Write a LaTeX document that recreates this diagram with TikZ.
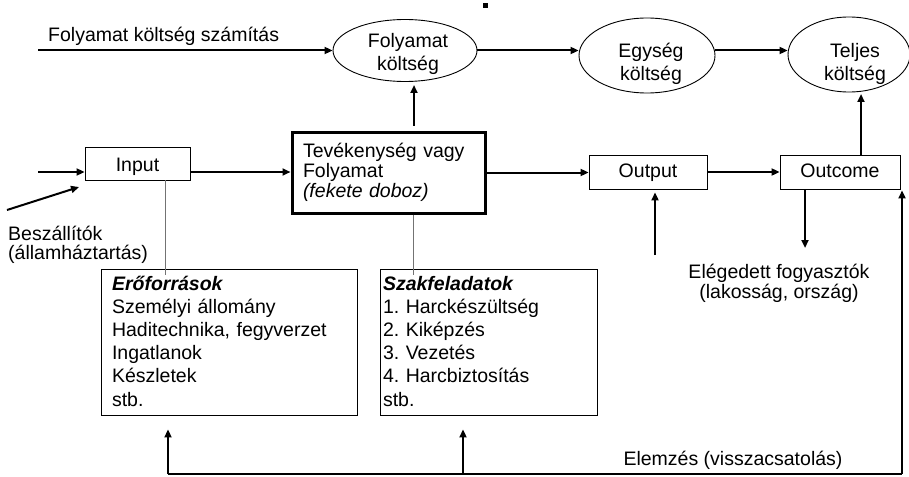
\documentclass[tikz,border=0pt]{standalone}
\usepackage{fontspec}
\setmainfont{Liberation Sans}
\usetikzlibrary{arrows.meta,shapes.geometric}
\newcommand\mytop[1]{\rule{0pt}{#1}}
\newcommand\mybot[1]{\rule[-#1]{0pt}{#1}}
\begin{document}
\frenchspacing
\begin{tikzpicture}[x=1pt,y=-1pt,
  txt/.style={font=\fontsize{19.5}{20}\selectfont, inner sep=0pt},
  arr/.style={line width=2pt,-{Triangle[length=8pt,width=7pt]}},
  plainline/.style={line width=2pt},
  box/.style={draw,line width=0.9pt,rectangle,inner sep=0pt,font=\fontsize{19.5}{20}\selectfont},
  ell/.style={draw,ellipse,line width=0.9pt,inner sep=0pt},
  intext/.style={font=\fontsize{19.5}{23}\selectfont,align=center,inner sep=0pt},
  link/.style={line width=1pt,draw=black!55}
]
\useasboundingbox (0,0) rectangle (909,476);

% small mark at top
\fill (483,3) rectangle (488,8);

% ellipses
\node[ell,minimum width=144pt,minimum height=62pt,
  label={[intext,xshift=3pt]center:\mytop{23pt}Folyamat\\költség\mybot{5pt}}] (fk) at (405,50.5) {};
\node[ell,minimum width=136pt,minimum height=75pt,
  label={[intext,xshift=4pt]center:\mytop{33pt}Egység\\költség\mybot{5pt}}] (eg) at (647,55.5) {};
\node[ell,minimum width=122pt,minimum height=75pt,
  label={[intext,xshift=6pt]center:\mytop{35pt}Teljes\\költség\mybot{5pt}}] (tj) at (849,54.5) {};

% boxes
\node[box,minimum width=105pt,minimum height=33pt,text height=19pt,text depth=4pt] (in) at (137.5,163.5) {Input};
\node[box,line width=3pt,minimum width=193pt,minimum height=81pt,text width=171pt,
  inner xsep=11pt,align=left] (tev) at (388.5,172.5)
  {\mytop{21pt}Tevékenység vagy\\Folyamat\\\textit{(fekete doboz)}\mybot{12pt}};
\node[box,minimum width=118pt,minimum height=34pt,text height=16pt,text depth=6pt] (out) at (648,172) {Output};
\node[box,minimum width=120pt,minimum height=34pt,text height=16pt,text depth=6pt] (oc) at (840,172) {Outcome};
\node[box,minimum width=256pt,minimum height=146pt,text width=234pt,inner xsep=11pt,
  align=left,font=\fontsize{19.5}{23.2}\selectfont] (res) at (229,342)
  {\mytop{20pt}\textbf{\textit{Erőforrások}}\\Személyi állomány\\Haditechnika, fegyverzet\\Ingatlanok\\Készletek\\stb.\mybot{8pt}};
\node[box,minimum width=217pt,minimum height=146pt,text width=211pt,inner xsep=3pt,
  align=left,font=\fontsize{19.5}{23.2}\selectfont] (szak) at (488.5,342)
  {\mytop{20pt}\textbf{\textit{Szakfeladatok}}\\1. Harckészültség\\2. Kiképzés\\3. Vezetés\\4. Harcbiztosítás\\stb.\mybot{8pt}};

% free texts
\node[txt,anchor=base west] (lblA) at (48,42) {Folyamat költség számítás};
\node[txt,anchor=base west] (lblB1) at (8,240) {Beszállítók};
\node[txt,anchor=base west] (lblB2) at (8,259) {(államháztartás)};
\node[txt,anchor=base] (lblC1) at (779,278) {Elégedett fogyasztók};
\node[txt,anchor=base] (lblC2) at (779,298) {(lakosság, ország)};
\node[txt,anchor=base] (lblD) at (733,465) {Elemzés (visszacsatolás)};

% coordinates
\coordinate (s1) at (38,50.5);
\coordinate (s2) at (38,172);
\coordinate (s3) at (7,210);
\coordinate (e3) at (79,187);
\coordinate (up1) at (414,85);
\coordinate (tu) at (861,94);
\coordinate (ob) at (655,255);
\coordinate (od) at (805,248);
\coordinate (lk1) at (165,0);
\coordinate (lk2) at (413,0);
\coordinate (fbL) at (168,474);
\coordinate (fbM) at (463,474);
\coordinate (fbR) at (902,474);

% top row arrows
\draw[arr] (s1) -- (fk.west);
\draw[arr] (fk.east) -- (fk.east -| eg.west);
\draw[arr] (fk.east -| eg.east) -- (fk.east -| tj.west);

% middle row arrows
\draw[arr] (s2) -- (s2 -| in.west);
\draw[arr] (s3) -- (e3);
\draw[arr] (s2 -| in.east) -- (s2 -| tev.west);
\draw[arr] (tev.east) -- (tev.east -| out.west);
\draw[arr] (out.east) -- (oc.west);
\draw[arr] ([yshift=5pt]tev.north -| up1) -- (up1);
\draw[arr] (oc.north -| tu) -- (tu);
\draw[arr] (ob) -- ([yshift=-3pt]out.south -| ob);
\draw[arr] (oc.south -| od) -- (od);

% links to lists
\draw[link] (in.south -| lk1) -- ([yshift=-6pt]res.north -| lk1);
\draw[link] (tev.south -| lk2) -- ([yshift=-6pt]szak.north -| lk2);

% feedback
\draw[plainline] (fbL) -- (fbR);
\draw[arr] (fbL) -- ([yshift=-14pt]res.south -| fbL);
\draw[arr] (fbM) -- ([yshift=-14pt]szak.south -| fbM);
\draw[arr] (fbR) -- ([yshift=-1pt]oc.south -| fbR);
\end{tikzpicture}
\end{document}
